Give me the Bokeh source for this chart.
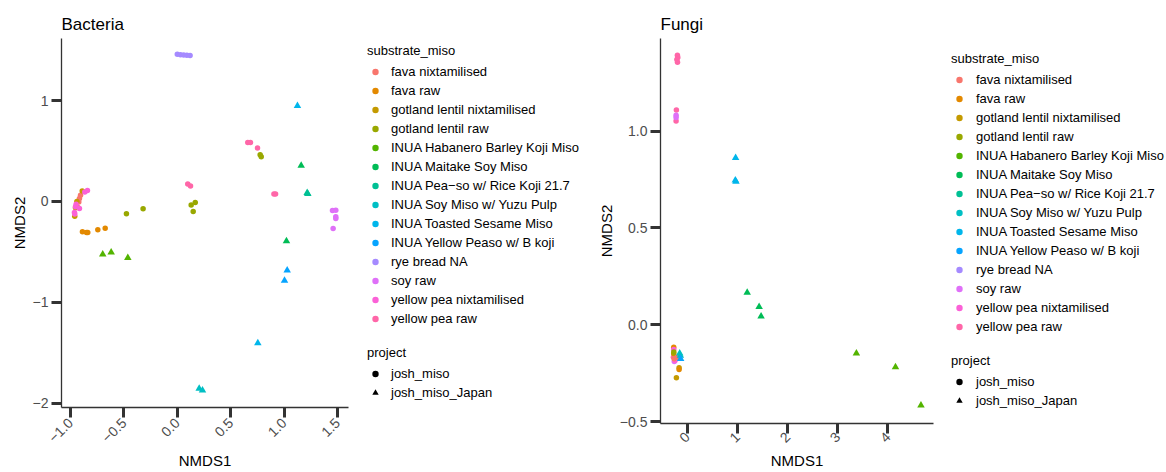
import math
from bokeh.plotting import figure
from bokeh.layouts import row, column
from bokeh.models import (FixedTicker, Legend, LegendItem, ColumnDataSource, CDSView,
                          GroupFilter, Range1d)
from bokeh.transform import factor_cmap
from bokeh.embed import file_html
from bokeh.resources import INLINE

FONT = "Liberation Sans"

categories = ["fava nixtamilised", "fava raw", "gotland lentil nixtamilised", "gotland lentil raw",
              "INUA Habanero Barley Koji Miso", "INUA Maitake Soy Miso",
              "INUA Pea\u2212so w/ Rice Koji 21.7", "INUA Soy Miso w/ Yuzu Pulp",
              "INUA Toasted Sesame Miso", "INUA Yellow Peaso w/ B koji", "rye bread NA",
              "soy raw", "yellow pea nixtamilised", "yellow pea raw"]
palette = ["#F8766D", "#E38900", "#C49A00", "#99A800", "#53B400", "#00BC56", "#00C094",
           "#00BFC4", "#00B6EB", "#06A4FF", "#A58AFF", "#DF70F8", "#FB61D7", "#FF66A8"]
projects = ["josh_miso", "josh_miso_Japan"]
project_markers = ["circle", "triangle"]

# ---------------- Bacteria ----------------
bac_substrate = (["fava nixtamilised"] * 4 + ["fava raw"] * 5 + ["gotland lentil nixtamilised"] * 4
                 + ["gotland lentil raw"] * 7 + ["INUA Habanero Barley Koji Miso"] * 3
                 + ["INUA Maitake Soy Miso"] * 2 + ["INUA Pea\u2212so w/ Rice Koji 21.7"] * 2
                 + ["INUA Soy Miso w/ Yuzu Pulp"] * 2 + ["INUA Toasted Sesame Miso"] * 2
                 + ["INUA Yellow Peaso w/ B koji"] * 2 + ["rye bread NA"] * 5 + ["soy raw"] * 5
                 + ["yellow pea nixtamilised"] * 7 + ["yellow pea raw"] * 7)
bac_project = (["josh_miso"] * 20 + ["josh_miso_Japan"] * 13 + ["josh_miso"] * 24)
bac_nmds1 = [-0.906, -0.916, -0.922, -0.930,
             -0.888, -0.850, -0.838, -0.744, -0.675,
             -0.890, -0.953, -0.960, -0.940,
             -0.476, -0.320, 0.130, 0.168, 0.149, 0.776, 0.786,
             -0.698, -0.619, -0.463,
             1.160, 1.022,
             1.216, 1.222,
             0.205, 0.236,
             1.125, 0.754,
             1.029, 1.004,
             0.000, 0.030, 0.060, 0.090, 0.120,
             1.453, 1.484, 1.484, 1.484, 1.459,
             -0.866, -0.841, -0.947, -0.953, -0.916, -0.963, -0.960,
             0.660, 0.685, 0.751, 0.098, 0.124, 0.905, 0.920]
bac_nmds2 = [0.062, 0.030, -0.004, -0.060,
             -0.300, -0.306, -0.306, -0.280, -0.264,
             0.105, -0.063, -0.145, 0.000,
             -0.122, -0.073, -0.034, -0.010, -0.099, 0.464, 0.444,
             -0.523, -0.503, -0.557,
             0.355, -0.392,
             0.085, 0.075,
             -1.853, -1.870,
             0.948, -1.402,
             -0.681, -0.784,
             1.458, 1.453, 1.450, 1.447, 1.445,
             -0.089, -0.086, -0.152, -0.168, -0.267,
             0.095, 0.109, -0.027, -0.053, -0.069, -0.109, -0.125,
             0.585, 0.585, 0.530, 0.174, 0.154, 0.075, 0.075]
bac_xticks = [-1.0, -0.5, 0.0, 0.5, 1.0, 1.5]
bac_xlabels = ["\u22121.0", "\u22120.5", "0.0", "0.5", "1.0", "1.5"]
bac_yticks = [1, 0, -1, -2]
bac_ylabels = ["1", "0", "\u22121", "\u22122"]

# ---------------- Fungi ----------------
fun_substrate = (["yellow pea raw"] * 7 + ["soy raw"] * 3 + ["INUA Toasted Sesame Miso"] * 3
                 + ["INUA Maitake Soy Miso"] * 3 + ["INUA Habanero Barley Koji Miso"] * 3
                 + ["INUA Soy Miso w/ Yuzu Pulp"] * 2 + ["INUA Yellow Peaso w/ B koji"] * 1
                 + ["gotland lentil nixtamilised"] * 3 + ["fava raw"] * 2
                 + ["yellow pea nixtamilised"] * 2 + ["fava nixtamilised"] * 2
                 + ["gotland lentil raw"] * 1)
fun_project = (["josh_miso"] * 10 + ["josh_miso_Japan"] * 12 + ["josh_miso"] * 10)
fun_nmds1 = [-0.198, -0.190, -0.208, -0.196, -0.218, -0.224, -0.277,
             -0.224, -0.224, -0.260,
             0.963, 0.957, 0.970,
             1.194, 1.432, 1.471,
             3.372, 4.152, 4.660,
             -0.152, -0.139,
             -0.133,
             -0.271, -0.218, -0.164,
             -0.271, -0.164,
             -0.271, -0.244,
             -0.263, -0.204,
             -0.270]
fun_nmds2 = [1.393, 1.381, 1.370, 1.356, 1.109, 1.053, -0.168,
             1.083, 1.071, -0.190,
             0.862, 0.746, 0.740,
             0.166, 0.093, 0.044,
             -0.147, -0.219, -0.416,
             -0.147, -0.159,
             -0.176,
             -0.150, -0.274, -0.222,
             -0.116, -0.231,
             -0.128, -0.185,
             -0.176, -0.168,
             -0.140]
fun_xticks = [0, 1, 2, 3, 4]
fun_xlabels = ["0", "1", "2", "3", "4"]
fun_yticks = [1.0, 0.5, 0.0, -0.5]
fun_ylabels = ["1.0", "0.5", "0.0", "\u22120.5"]

H = 472
NAN = float("nan")


def style_axes(p, xticks, xlabels, yticks, ylabels, x_std):
    p.xaxis.ticker = FixedTicker(ticks=xticks)
    p.xaxis.major_label_overrides = {float(t): l for t, l in zip(xticks, xlabels)}
    p.yaxis.ticker = FixedTicker(ticks=yticks)
    p.yaxis.major_label_overrides = {float(t): l for t, l in zip(yticks, ylabels)}
    for ax in (p.xaxis[0], p.yaxis[0]):
        ax.axis_line_color = "#333333"
        ax.axis_line_width = 1.3
        ax.major_tick_line_color = "#333333"
        ax.major_tick_line_width = 3
        ax.major_tick_in = 0
        ax.major_tick_out = 10
        ax.minor_tick_line_color = None
        ax.major_label_text_color = "#4D4D4D"
        ax.major_label_text_font = FONT
        ax.major_label_text_font_size = "14px"
        ax.major_label_standoff = 3
        ax.axis_label_text_font = FONT
        ax.axis_label_text_font_size = "15px"
        ax.axis_label_text_font_style = "normal"
        ax.axis_label_text_color = "black"
        ax.axis_label_standoff = 2
    p.xaxis.major_label_standoff = x_std
    p.xaxis.major_label_orientation = math.pi / 4
    p.xgrid.grid_line_color = None
    p.ygrid.grid_line_color = None
    p.outline_line_color = None
    p.title.text_font = FONT
    p.title.text_font_size = "17px"
    p.title.text_font_style = "normal"
    p.title.text_color = "black"
    p.title.align = "left"
    p.title.offset = 0
    p.title.standoff = 10


def panel(title, width, xr, yr, mb_left, mb_bottom, x_std, xs, ys, subs, projs, xt, xl, yt, yl):
    p = figure(width=width, height=H, title=title, toolbar_location=None, output_backend="svg",
               x_range=Range1d(*xr), y_range=Range1d(*yr), x_axis_label="NMDS1",
               y_axis_label="NMDS2", min_border_left=mb_left, min_border_right=5,
               min_border_top=38, min_border_bottom=mb_bottom)
    src = ColumnDataSource(dict(x=xs, y=ys, substrate=subs, project=projs))
    for proj, mk, sz in zip(projects, project_markers, [5.5, 7.5]):
        view = CDSView(filter=GroupFilter(column_name="project", group=proj))
        p.scatter("x", "y", source=src, view=view, marker=mk, size=sz,
                  color=factor_cmap("substrate", palette, categories), line_width=0)
    style_axes(p, xt, xl, yt, yl, x_std)
    return p


def legend_fig(width, mb_left, mb_top, mb_bottom, glyph_w, standoff, fsize):
    f = figure(width=width, height=H, toolbar_location=None, output_backend="svg",
               x_axis_location=None, y_axis_location=None, x_range=(0, 1), y_range=(0, 1),
               min_border_left=mb_left, min_border_top=mb_top, min_border_bottom=mb_bottom,
               min_border_right=0)
    f.xgrid.grid_line_color = None
    f.ygrid.grid_line_color = None
    f.outline_line_color = None
    items = []
    for cat, col in zip(categories, palette):
        r = f.scatter(x=[NAN], y=[NAN], marker="circle", color=col, line_width=0)
        items.append(LegendItem(label=cat, renderers=[r]))
    pitems = []
    for proj, mk in zip(projects, project_markers):
        r = f.scatter(x=[NAN], y=[NAN], marker=mk, color="black", line_width=0)
        pitems.append(LegendItem(label=proj, renderers=[r]))
    for its, ttl, loc in ((items, "substrate_miso", "top_left"), (pitems, "project", "bottom_left")):
        lg = Legend(items=its, title=ttl, location=loc, margin=0, padding=0, spacing=0,
                    glyph_width=glyph_w, glyph_height=19, label_height=19, label_standoff=standoff,
                    border_line_color=None, background_fill_alpha=0,
                    label_text_font=FONT, label_text_font_size=fsize, label_text_color="black",
                    title_text_font=FONT, title_text_font_size=fsize, title_text_color="black",
                    title_text_font_style="normal", title_standoff=4)
        f.add_layout(lg, "center")
    return f


p1 = panel("Bacteria", 353, (-1.084, 1.603), (-2.04, 1.614), 61, 64, 3,
           bac_nmds1, bac_nmds2, bac_substrate, bac_project,
           bac_xticks, bac_xlabels, bac_yticks, bac_ylabels)
l1 = legend_fig(241, 14, 43, 70, 16, 8, "13px")
p2 = panel("Fungi", 344, (-0.535, 4.91), (-0.51, 1.479), 64, 49, 1,
           fun_nmds1, fun_nmds2, fun_substrate, fun_project,
           fun_xticks, fun_xlabels, fun_yticks, fun_ylabels)
l2 = legend_fig(228, 13, 51, 62, 16, 9, "13px")

layout = row(column(p1), column(l1), column(p2), column(l2))
open("out.html", "w").write(file_html(layout, INLINE))
